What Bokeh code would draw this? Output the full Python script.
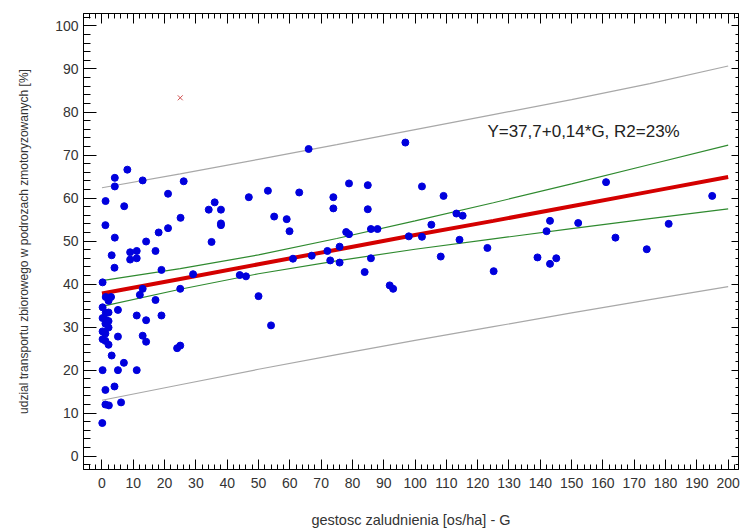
from bokeh.plotting import figure
from bokeh.models import Range1d, LinearAxis, SingleIntervalTicker, Label
from bokeh.embed import file_html
from bokeh.resources import INLINE

# ---- data ----
obs_x = [1.15, 4.1, 4.1, 8.1, 7.1, 13.0, 21.1, 26.1, 1.1, 4.1, 14.1, 18.1, 21.1, 25.1,
         34.1, 36.0, 38.0, 38.0, 38.0, 35.0, 46.9, 3.1, 9.0, 11.1, 17.1, 9.0, 11.1, 4.0,
         19.0, 0.2, 29.1, 44.0, 46.0, 50.0, 13.0, 12.1, 25.0, 1.2, 2.9, 2.1, 17.1, 0.2,
         5.1, 1.2, 2.1, 0.2, 1.2, 2.1, 1.1, 2.1, 11.1, 14.1, 19.0, 54.0, 0.2, 1.1, 0.2,
         1.1, 2.1, 5.1, 13.0, 14.1, 24.0, 25.0, 3.1, 7.0, 0.2, 5.1, 11.1, 4.0, 1.1, 1.1,
         2.2, 6.1, 0.1,
         66.0, 96.9, 53.0, 63.0, 73.9, 78.9, 84.9, 102.2, 109.1, 73.9, 84.9, 55.0, 59.0,
         59.9, 78.0, 78.9, 85.9, 88.0, 113.2, 115.2, 105.2, 98.0, 102.2, 114.2, 75.9, 72.0,
         67.0, 61.0, 72.9, 75.9, 85.9, 83.9, 108.2, 123.1, 125.1, 91.9, 93.0,
         161.0, 194.9, 143.1, 152.1, 142.0, 181.0, 164.0, 174.0, 139.1, 145.1, 143.1]
obs_y = [59.3, 64.7, 62.7, 66.6, 58.1, 64.1, 61.0, 63.9, 53.7, 50.8, 49.9, 52.0, 53.0, 55.4,
         57.3, 59.0, 57.3, 54.1, 53.7, 49.8, 60.2, 46.7, 47.4, 47.7, 47.7, 45.7, 46.0, 43.8,
         43.3, 40.4, 42.3, 42.1, 41.8, 37.2, 38.9, 37.5, 38.9, 37.0, 37.0, 36.1, 36.3, 34.6,
         34.0, 33.4, 33.4, 32.1, 31.7, 31.4, 30.8, 29.9, 32.7, 31.6, 32.7, 30.4, 29.0, 28.5,
         27.2, 26.8, 25.9, 27.8, 28.0, 26.6, 25.1, 25.7, 23.4, 21.7, 20.0, 20.0, 20.0, 16.2,
         15.4, 12.0, 11.8, 12.5, 7.7,
         71.4, 72.9, 61.7, 61.3, 60.2, 63.4, 63.0, 62.7, 60.5, 57.6, 57.4, 55.7, 55.1,
         52.3, 52.1, 51.6, 52.8, 52.8, 56.4, 55.9, 53.8, 51.1, 51.0, 50.3, 48.7, 47.7,
         46.6, 45.9, 45.5, 45.0, 46.0, 42.8, 46.4, 48.4, 43.0, 39.7, 38.9,
         63.7, 60.5, 54.7, 54.2, 52.3, 54.0, 50.8, 48.1, 46.2, 46.0, 44.7]

outlier_x = [25.0]
outlier_y = [83.3]

fit_x = [0, 25, 50, 75, 100, 125, 150, 175, 200]
fit_y = [37.8, 41.2, 44.6, 48.0, 51.4, 54.7, 58.1, 61.5, 64.9]
conf_upper = [40.8, 43.6, 46.8, 50.6, 54.7, 58.9, 63.3, 67.8, 72.3]
conf_lower = [34.8, 38.8, 42.4, 45.4, 48.1, 50.5, 52.9, 55.2, 57.5]
pred_upper = [62.4, 65.6, 69.0, 72.4, 75.9, 79.4, 82.9, 86.6, 90.7]
pred_lower = [13.0, 16.6, 20.2, 23.6, 26.9, 30.1, 33.3, 36.4, 39.4]

eq_text = "Y=37,7+0,14*G, R2=23%"
eq_pos = (123.1, 75.5)
x_title = "gestosc zaludnienia [os/ha] - G"
y_title = "udzial transportu zbiorowego w podrozach zmotoryzowanych [%]"

FONT = "Liberation Sans"

p = figure(width=740, height=530, output_backend="svg", toolbar_location=None,
           x_range=Range1d(-5.9, 203.3), y_range=Range1d(-3.1, 102.9),
           min_border_left=83, min_border_right=2, min_border_top=13, min_border_bottom=61)
p.xgrid.visible = False
p.ygrid.visible = False
p.outline_line_color = "black"
p.background_fill_color = "white"
p.border_fill_color = "white"

xt = SingleIntervalTicker(interval=10, num_minor_ticks=5)
yt = SingleIntervalTicker(interval=10, num_minor_ticks=5)

def style(ax, major_in, minor_in):
    ax.major_tick_out = 0
    ax.minor_tick_out = 0
    ax.major_tick_in = major_in
    ax.minor_tick_in = minor_in
    ax.axis_line_color = "black"
    ax.major_tick_line_color = "black"
    ax.minor_tick_line_color = "black"
    ax.major_label_text_font = FONT
    ax.major_label_text_font_size = "14px"
    ax.major_label_text_color = "#333333"
    ax.axis_label_text_font = FONT
    ax.axis_label_text_font_style = "normal"
    ax.axis_label_text_color = "#333333"

xa = p.xaxis[0]
xa.ticker = xt
style(xa, 10, 5)
xa.major_label_standoff = 8
xa.axis_label = x_title
xa.axis_label_text_font_size = "14.5px"
xa.axis_label_standoff = 21

ya = p.yaxis[0]
ya.ticker = yt
style(ya, 13, 7)
ya.major_label_standoff = 5
ya.axis_label = y_title
ya.axis_label_text_font_size = "12px"
ya.axis_label_standoff = 21

top = LinearAxis(ticker=xt)
style(top, 10, 5)
top.major_label_text_font_size = "0px"
top.major_label_text_color = None
p.add_layout(top, "above")

right = LinearAxis(ticker=yt)
style(right, 7, 3)
right.major_label_text_font_size = "0px"
right.major_label_text_color = None
p.add_layout(right, "right")

p.line(fit_x, pred_upper, line_color="#a8a8a8", line_width=1.2)
p.line(fit_x, pred_lower, line_color="#a8a8a8", line_width=1.2)
p.line(fit_x, conf_upper, line_color="#2f8a2f", line_width=1.2)
p.line(fit_x, conf_lower, line_color="#2f8a2f", line_width=1.2)
p.line(fit_x, fit_y, line_color="#d40000", line_width=4)

p.scatter(obs_x, obs_y, marker="circle", size=7, fill_color="#0000dd", line_color="#0000dd")
p.scatter(outlier_x, outlier_y, marker="x", size=7, line_color="#d05050", line_width=1)

p.add_layout(Label(x=eq_pos[0], y=eq_pos[1], text=eq_text, text_font=FONT,
                   text_font_size="17px", text_baseline="middle", text_color="#222222"))

open("out.html", "w").write(file_html(p, INLINE))
